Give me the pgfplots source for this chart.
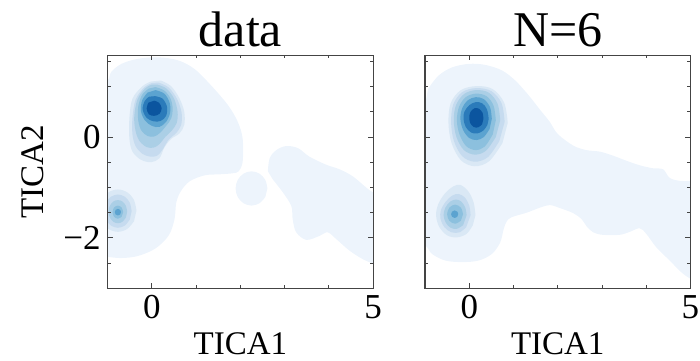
\documentclass[border=0pt]{standalone}
\usepackage{pgfplots}
\pgfplotsset{compat=1.18}
\usepackage{fontspec}
\setmainfont{Liberation Serif}
\definecolor{La}{HTML}{EDF4FC}
\definecolor{Lb}{HTML}{DAE8F5}
\definecolor{Lc}{HTML}{C6DBEF}
\definecolor{Ld}{HTML}{ABCFE6}
\definecolor{Le}{HTML}{8CC0DE}
\definecolor{Lf}{HTML}{5BA3D0}
\definecolor{Lg}{HTML}{2B7BBA}
\definecolor{Lh}{HTML}{0B559F}
\definecolor{axc}{HTML}{444444}
\begin{document}
\begin{tikzpicture}
\pgfplotsset{
  kde/.style={
    scale only axis, width=132.75pt, height=116.5pt,
    xmin=-1, xmax=5, ymin=-3, ymax=1.62,
    xtick={0,5}, xticklabels={0,5},
    minor xtick={1,2,3,4},
    ytick={-2,0}, yticklabels={−2,0},
    minor ytick={-2.5,-1.5,-1,-0.5,0.5,1,1.5},
    tick align=inside, xtick pos=both, ytick pos=both,
    major tick length=2.6pt, minor tick length=1.5pt,
    axis line style={axc, line width=0.6pt},
    every tick/.style={axc, line width=0.5pt},
    tick label style={font=\fontsize{17.5}{17.5}\selectfont},
    label style={font=\fontsize{16.5}{16.5}\selectfont},
    title style={font=\fontsize{25}{25}\selectfont, yshift=-5.5pt},
    xlabel={TICA1},
    ylabel shift=3pt,
    axis on top,
  },
  rg/.style={draw=none, fill=#1, smooth, tension=0.55, forget plot},
}
% ---------------- left panel: data ----------------
\begin{axis}[kde, name=left, title={data}, ylabel={TICA2}]
\addplot[rg=La] coordinates {(-1.3,1.13) (-1.0,1.13) (-0.92,1.29) (-0.69,1.45) (-0.32,1.55) (0.14,1.58) (0.59,1.52) (0.96,1.35) (1.34,1.02) (1.72,0.63) (1.94,0.30) (2.05,-0.03) (2.05,-0.49) (1.96,-0.68) (1.82,-0.72) (1.53,-0.74) (1.19,-0.76) (0.85,-0.88) (0.65,-1.08) (0.55,-1.30) (0.51,-1.63) (0.38,-1.95) (0.08,-2.21) (-0.32,-2.36) (-0.69,-2.40) (-1.0,-2.38) (-1.3,-2.38)} -- cycle;
\addplot[rg=La] coordinates {(2.61,-1.02) (2.562,-0.85) (2.43,-0.726) (2.25,-0.68) (2.07,-0.726) (1.938,-0.85) (1.89,-1.02) (1.938,-1.19) (2.07,-1.314) (2.25,-1.36) (2.43,-1.314) (2.562,-1.19)} -- cycle;
\addplot[rg=La] coordinates {(2.62,-0.68) (2.66,-0.42) (2.81,-0.26) (3.03,-0.18) (3.30,-0.22) (3.56,-0.39) (3.94,-0.55) (4.24,-0.64) (4.54,-0.78) (4.84,-1.00) (5.0,-1.10) (5.3,-1.2) (5.3,-2.6) (5.0,-2.51) (4.76,-2.42) (4.46,-2.25) (4.16,-2.02) (3.97,-1.89) (3.79,-1.96) (3.49,-2.04) (3.26,-1.89) (3.18,-1.63) (3.15,-1.37) (2.96,-1.10) (2.73,-0.84)} -- cycle;
% main peak
\addplot[rg=Lb] coordinates {(0.20,1.12) (0.43,1.01) (0.62,0.77) (0.73,0.50) (0.73,0.24) (0.62,0.07) (0.43,-0.04) (0.28,-0.21) (0.17,-0.42) (-0.02,-0.50) (-0.25,-0.45) (-0.44,-0.29) (-0.51,-0.03) (-0.51,0.37) (-0.44,0.76) (-0.21,1.01) (-0.02,1.10)} -- cycle;
\addplot[rg=Lc] coordinates {(0.15,1.08) (0.38,0.98) (0.57,0.75) (0.67,0.48) (0.66,0.24) (0.55,0.08) (0.38,-0.05) (0.24,-0.25) (0.12,-0.37) (-0.04,-0.39) (-0.22,-0.33) (-0.37,-0.18) (-0.44,0.05) (-0.44,0.38) (-0.37,0.74) (-0.18,0.98) (0.0,1.07)} -- cycle;
\addplot[rg=Ld] coordinates {(0.12,1.04) (0.33,0.96) (0.50,0.76) (0.58,0.50) (0.56,0.28) (0.45,0.13) (0.30,0.0) (0.17,-0.14) (0.04,-0.21) (-0.12,-0.20) (-0.28,-0.08) (-0.37,0.12) (-0.40,0.40) (-0.33,0.74) (-0.16,0.96) (0.0,1.04)} -- cycle;
\addplot[rg=Le] coordinates {(0.08,0.99) (0.28,0.92) (0.42,0.76) (0.47,0.55) (0.43,0.36) (0.32,0.22) (0.18,0.08) (0.05,0.01) (-0.10,0.02) (-0.24,0.13) (-0.31,0.33) (-0.31,0.60) (-0.22,0.84) (-0.07,0.96)} -- cycle;
\addplot[rg=Lf] coordinates {(0.08,0.93) (0.28,0.86) (0.40,0.68) (0.41,0.48) (0.32,0.30) (0.17,0.20) (0.0,0.22) (-0.16,0.33) (-0.25,0.52) (-0.22,0.73) (-0.10,0.88)} -- cycle;
\addplot[rg=Lg] coordinates {(0.07,0.81) (0.24,0.76) (0.34,0.60) (0.32,0.42) (0.20,0.32) (0.04,0.31) (-0.12,0.38) (-0.21,0.55) (-0.16,0.72) (-0.06,0.80)} -- cycle;
\addplot[rg=Lh] coordinates {(0.05,0.72) (0.16,0.68) (0.22,0.57) (0.17,0.46) (0.05,0.42) (-0.07,0.45) (-0.12,0.57) (-0.08,0.68)} -- cycle;
% small peak
\addplot[rg=Lb] coordinates {(-0.35,-1.46) (-0.406,-1.25) (-0.56,-1.096) (-0.77,-1.04) (-0.98,-1.096) (-1.134,-1.25) (-1.19,-1.46) (-1.134,-1.67) (-0.98,-1.824) (-0.77,-1.88) (-0.56,-1.824) (-0.406,-1.67)} -- cycle;
\addplot[rg=Lc] coordinates {(-0.46,-1.47) (-0.50,-1.305) (-0.615,-1.184) (-0.77,-1.14) (-0.925,-1.184) (-1.04,-1.305) (-1.08,-1.47) (-1.04,-1.635) (-0.925,-1.756) (-0.77,-1.80) (-0.615,-1.756) (-0.50,-1.635)} -- cycle;
\addplot[rg=Ld] coordinates {(-0.56,-1.48) (-0.588,-1.365) (-0.665,-1.281) (-0.77,-1.25) (-0.875,-1.281) (-0.952,-1.365) (-0.98,-1.48) (-0.952,-1.595) (-0.875,-1.679) (-0.77,-1.71) (-0.665,-1.679) (-0.588,-1.595)} -- cycle;
\addplot[rg=Le] coordinates {(-0.65,-1.49) (-0.685,-1.398) (-0.77,-1.36) (-0.855,-1.398) (-0.89,-1.49) (-0.855,-1.582) (-0.77,-1.62) (-0.685,-1.582)} -- cycle;
\addplot[rg=Lf] coordinates {(-0.70,-1.49) (-0.72,-1.444) (-0.77,-1.425) (-0.82,-1.444) (-0.84,-1.49) (-0.82,-1.536) (-0.77,-1.555) (-0.72,-1.536)} -- cycle;
\end{axis}
% ---------------- right panel: N=6 ----------------
\begin{axis}[kde, name=right, at={(left.south west)}, anchor=south west, xshift=158.65pt, title={N=6}, yticklabels={}]
\addplot[rg=La] coordinates {(-1.3,0.70) (-1.0,0.72) (-0.92,0.96) (-0.69,1.22) (-0.39,1.38) (-0.01,1.45) (0.36,1.43) (0.74,1.32) (1.04,1.12) (1.34,0.83) (1.60,0.54) (1.82,0.30) (2.0,0.06) (2.35,-0.17) (2.65,-0.26) (2.95,-0.29) (3.25,-0.37) (3.55,-0.47) (3.85,-0.56) (4.15,-0.62) (4.38,-0.64) (4.53,-0.81) (4.76,-0.87) (5.0,-0.87) (5.3,-0.87) (5.3,-2.9) (5.0,-2.81) (4.79,-2.68) (4.53,-2.45) (4.23,-2.19) (4.00,-1.92) (3.85,-1.81) (3.63,-1.88) (3.40,-1.94) (3.02,-1.94) (2.80,-1.89) (2.65,-1.77) (2.54,-1.63) (2.35,-1.51) (2.05,-1.41) (1.82,-1.35) (1.60,-1.40) (1.30,-1.50) (0.96,-1.59) (0.85,-1.67) (0.78,-1.82) (0.70,-2.09) (0.51,-2.32) (0.21,-2.45) (-0.16,-2.48) (-0.54,-2.45) (-0.84,-2.32) (-1.0,-2.15) (-1.3,-2.15)} -- cycle;
% main peak
\addplot[rg=Lb] coordinates {(0.87,0.28) (0.79,0.68) (0.53,0.95) (0.17,1.01) (-0.19,0.93) (-0.42,0.67) (-0.47,0.28) (-0.40,-0.12) (-0.19,-0.46) (0.12,-0.58) (0.45,-0.48) (0.75,-0.12)} -- cycle;
\addplot[rg=Lc] coordinates {(0.80,0.30) (0.73,0.67) (0.50,0.91) (0.16,0.97) (-0.16,0.89) (-0.36,0.65) (-0.41,0.30) (-0.35,-0.07) (-0.16,-0.38) (0.12,-0.49) (0.42,-0.40) (0.68,-0.08)} -- cycle;
\addplot[rg=Ld] coordinates {(0.70,0.33) (0.64,0.66) (0.44,0.88) (0.15,0.93) (-0.12,0.85) (-0.30,0.63) (-0.35,0.33) (-0.29,0.0) (-0.12,-0.26) (0.13,-0.35) (0.38,-0.27) (0.60,0.0)} -- cycle;
\addplot[rg=Le] coordinates {(0.60,0.33) (0.55,0.62) (0.39,0.81) (0.15,0.86) (-0.08,0.79) (-0.23,0.60) (-0.28,0.33) (-0.22,0.05) (-0.07,-0.18) (0.14,-0.26) (0.35,-0.19) (0.53,0.05)} -- cycle;
\addplot[rg=Lf] coordinates {(0.51,0.36) (0.47,0.59) (0.33,0.75) (0.15,0.79) (-0.03,0.73) (-0.16,0.57) (-0.20,0.36) (-0.14,0.14) (0.0,-0.02) (0.17,-0.06) (0.33,0.0) (0.46,0.16)} -- cycle;
\addplot[rg=Lg] coordinates {(0.44,0.36) (0.40,0.55) (0.29,0.67) (0.14,0.69) (0.0,0.63) (-0.11,0.50) (-0.13,0.36) (-0.08,0.20) (0.04,0.09) (0.18,0.07) (0.32,0.13) (0.41,0.24)} -- cycle;
\addplot[rg=Lh] coordinates {(0.32,0.36) (0.30,0.48) (0.22,0.56) (0.12,0.57) (0.03,0.50) (0.0,0.40) (0.02,0.28) (0.10,0.20) (0.20,0.19) (0.29,0.25)} -- cycle;
% small peak
\addplot[rg=Lb] coordinates {(0.14,-1.55) (0.10,-1.30) (-0.02,-1.08) (-0.20,-0.95) (-0.36,-0.98) (-0.55,-1.12) (-0.70,-1.33) (-0.75,-1.55) (-0.68,-1.78) (-0.50,-1.95) (-0.28,-1.99) (-0.06,-1.92) (0.08,-1.75)} -- cycle;
\addplot[rg=Lc] coordinates {(0.03,-1.55) (0.0,-1.36) (-0.10,-1.20) (-0.24,-1.13) (-0.38,-1.16) (-0.53,-1.28) (-0.64,-1.45) (-0.65,-1.62) (-0.56,-1.79) (-0.40,-1.89) (-0.22,-1.89) (-0.07,-1.79)} -- cycle;
\addplot[rg=Ld] coordinates {(-0.06,-1.55) (-0.09,-1.40) (-0.18,-1.28) (-0.30,-1.24) (-0.43,-1.28) (-0.54,-1.40) (-0.58,-1.55) (-0.53,-1.70) (-0.42,-1.80) (-0.28,-1.82) (-0.14,-1.75)} -- cycle;
\addplot[rg=Le] coordinates {(-0.14,-1.53) (-0.19,-1.40) (-0.32,-1.34) (-0.45,-1.40) (-0.50,-1.53) (-0.45,-1.66) (-0.32,-1.72) (-0.19,-1.66)} -- cycle;
\addplot[rg=Lf] coordinates {(-0.25,-1.53) (-0.27,-1.48) (-0.33,-1.455) (-0.39,-1.48) (-0.41,-1.53) (-0.39,-1.58) (-0.33,-1.605) (-0.27,-1.58)} -- cycle;
\end{axis}
\pgfresetboundingbox
\path[use as bounding box] (left.south west) ++(-53.85pt,-35.85pt) rectangle ++(350pt,180pt);
\end{tikzpicture}
\end{document}
